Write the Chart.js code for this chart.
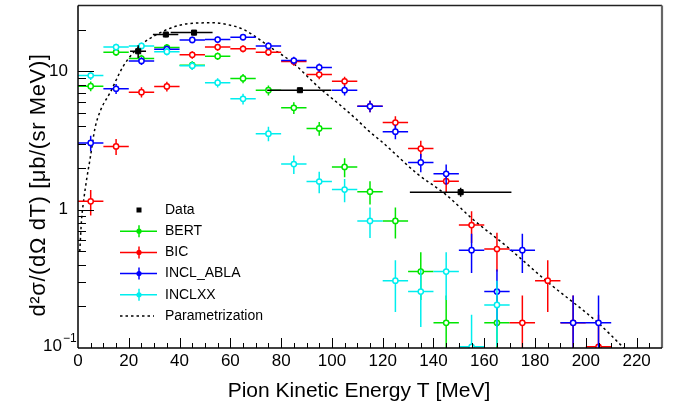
<!DOCTYPE html>
<html>
<head>
<meta charset="utf-8">
<script src="https://cdn.jsdelivr.net/npm/chart.js@4.4.0/dist/chart.umd.min.js"></script>
<style>
  html, body { margin: 0; padding: 0; background: #fff; }
  canvas { display: block; }
</style>
</head>
<body>
<canvas id="pionChart" width="688" height="402"></canvas>
<script>
// model histograms: bin centres in MeV, bins are 10 MeV wide
const modelT = [5, 15, 25, 35, 45, 55, 65, 75, 85, 95, 105, 115, 125, 135, 145, 155, 165, 175, 185, 195, 205]
const binHalfWidth = 5

const bertVals = [7.83, 13.8, 12.4, 14.9, 11.1, 12.9, 8.9, 7.32, 5.46, 3.87, 2.04, 1.35, 0.83, 0.357, 0.152, null, 0.152, null, null, null, null]
const bertErr = [0.63, 0.84, 0.8, 0.87, 0.75, 0.81, 0.67, 0.61, 0.53, 0.44, 0.32, 0.26, 0.21, 0.135, 0.088, null, 0.088, null, null, null, null]

const bicVals = [1.15, 2.87, 7.08, 7.8, 13.2, 15.0, 14.6, 13.8, 11.8, 9.5, 8.5, 5.6, 4.27, 2.77, 1.61, 0.775, 0.52, 0.152, 0.307, 0.152, 0.102]
const bicErr = [0.24, 0.38, 0.6, 0.63, 0.82, 0.88, 0.86, 0.84, 0.78, 0.7, 0.66, 0.53, 0.47, 0.38, 0.29, 0.2, 0.163, 0.088, 0.125, 0.088, 0.072]

const ablaVals = [3.04, 7.5, 11.9, 14.5, 16.9, 17.0, 17.7, 15.3, 12.0, 10.7, 7.32, 5.6, 3.67, 2.2, 1.82, 0.51, 0.256, 0.51, null, 0.152, 0.152]
const ablaErr = [0.39, 0.62, 0.78, 0.86, 0.93, 0.93, 0.95, 0.88, 0.78, 0.74, 0.61, 0.53, 0.43, 0.335, 0.305, 0.161, 0.114, 0.161, null, 0.088, 0.088]

const inclxxVals = [9.35, 15.0, 15.3, 13.9, 11.0, 8.3, 6.34, 3.55, 2.14, 1.6, 1.4, 0.83, 0.307, 0.256, 0.357, 0.102, 0.205, null, null, null, null]
const inclxxErr = [0.69, 0.875, 0.88, 0.84, 0.75, 0.65, 0.57, 0.425, 0.33, 0.286, 0.267, 0.206, 0.125, 0.114, 0.135, 0.072, 0.102, null, null, null, null]

// measured points
const dataT = [23.7, 34.6, 45.7, 87.4, 150.7]
const dataTLow = [20.5, 29.5, 36.5, 74.5, 130.7]
const dataTHigh = [26.8, 39.5, 53.0, 99.8, 170.7]
const dataVals = [14.0, 18.5, 19.1, 7.32, 1.34]
const dataErr = [1.5, 0.8, 0.8, 0.3, 0.1]

// parametrization curve
const paramT = [0.7, 1.4, 2.1, 3.5, 4.7, 6.7, 9, 12.6, 17.8, 24.4, 31, 40, 47, 53, 60, 65, 70, 74.5, 84.5, 94.6, 104.5, 109.7, 114.6, 120.2, 133.3, 145, 155.6, 169, 184.5, 204.8, 214.7, 220]
const paramVals = [0.5, 0.85, 1.12, 1.7, 2.3, 3.9, 5.3, 7.0, 10.9, 15.3, 18.5, 21.6, 22.4, 22.5, 21.6, 20.2, 17.8, 15.5, 11.6, 7.75, 5.46, 4.5, 3.7, 3.04, 1.84, 1.28, 0.85, 0.54, 0.305, 0.152, 0.101, 0.08]

const xTickVals = [0, 20, 40, 60, 80, 100, 120, 140, 160, 180, 200, 220]
const yTickVals = [0.1, 1, 10]

const FONT = "'Liberation Sans', Arial, Helvetica, sans-serif"

function modelSet(label, color, vals, errs, order) {
  const data = [], yErr = [], xLow = [], xHigh = []
  modelT.forEach((t, i) => {
    if (vals[i] == null) return
    data.push({ x: t, y: vals[i] })
    yErr.push(errs[i])
    xLow.push(t - binHalfWidth)
    xHigh.push(t + binHalfWidth)
  })
  return {
    label: label,
    data: data,
    yErr: yErr,
    xLow: xLow,
    xHigh: xHigh,
    borderColor: color,
    backgroundColor: "#fff",
    pointStyle: "circle",
    pointRadius: 2.6,
    pointBorderWidth: 1.5,
    showLine: false,
    order: order,
  }
}

const dataSet = {
  label: "Data",
  data: dataT.map((t, i) => ({ x: t, y: dataVals[i] })),
  yErr: dataErr,
  xLow: dataTLow,
  xHigh: dataTHigh,
  borderColor: "#000",
  backgroundColor: "#000",
  pointStyle: "rect",
  pointRadius: 3.6,
  pointBorderWidth: 1,
  showLine: false,
  order: 0,
}

const paramSet = {
  label: "Parametrization",
  data: paramT.map((t, i) => ({ x: t, y: paramVals[i] })),
  borderColor: "#000",
  borderWidth: 1.5,
  borderDash: [2.5, 3],
  pointRadius: 0,
  showLine: true,
  cubicInterpolationMode: "monotone",
  order: 5,
}

const datasets = [
  dataSet,
  modelSet("BERT", "#00e600", bertVals, bertErr, 4),
  modelSet("BIC", "#ff0000", bicVals, bicErr, 3),
  modelSet("INCL_ABLA", "#0000ff", ablaVals, ablaErr, 2),
  modelSet("INCLXX", "#00eeee", inclxxVals, inclxxErr, 1),
  paramSet,
]

// error bars drawn under each dataset's markers
const errorBars = {
  id: "errorBars",
  beforeDatasetDraw(chart, args) {
    const ds = chart.data.datasets[args.index]
    if (!ds.yErr) return
    const { ctx, chartArea: a, scales } = chart
    const xs = scales.x, ys = scales.y
    ctx.save()
    ctx.beginPath()
    ctx.rect(a.left, a.top, a.right - a.left, a.bottom - a.top)
    ctx.clip()
    ctx.strokeStyle = ds.borderColor
    ctx.lineWidth = 1.5
    ds.data.forEach((p, i) => {
      const px = xs.getPixelForValue(p.x)
      const py = ys.getPixelForValue(p.y)
      const lo = Math.max(p.y - ds.yErr[i], 0.001)
      ctx.beginPath()
      ctx.moveTo(xs.getPixelForValue(ds.xLow[i]), py)
      ctx.lineTo(xs.getPixelForValue(ds.xHigh[i]), py)
      ctx.moveTo(px, ys.getPixelForValue(p.y + ds.yErr[i]))
      ctx.lineTo(px, ys.getPixelForValue(lo))
      ctx.stroke()
    })
    ctx.restore()
  },
}

// ROOT-like frame, inward ticks, titles and legend
const rootFrame = {
  id: "rootFrame",
  afterDraw(chart) {
    const { ctx, chartArea: a, scales } = chart
    const xs = scales.x, ys = scales.y
    ctx.save()

    function seg(x1, y1, x2, y2) {
      ctx.beginPath()
      ctx.moveTo(x1, y1)
      ctx.lineTo(x2, y2)
      ctx.stroke()
    }

    // frame
    ctx.strokeStyle = "#222"
    ctx.lineWidth = 1.5
    seg(a.left, a.top, a.right, a.top)
    ctx.strokeStyle = "#666"
    ctx.lineWidth = 2.2
    seg(a.right, a.top, a.right, a.bottom)
    ctx.strokeStyle = "#000"
    ctx.lineWidth = 1.5
    seg(a.left, a.top, a.left, a.bottom)
    seg(a.left, a.bottom, a.right, a.bottom)

    // x ticks
    ctx.lineWidth = 1
    for (let t = 5; t < 230; t += 5) {
      const px = Math.round(xs.getPixelForValue(t)) + 0.5
      seg(px, a.bottom, px, a.bottom - (t % 20 === 0 ? 10 : 5))
    }
    // y ticks (log)
    yTickVals.forEach((d) => {
      for (let m = 1; m <= 9; m++) {
        const v = d * m
        if (v >= 30 || (v === 0.1)) continue
        const py = Math.round(ys.getPixelForValue(v)) + 0.5
        seg(a.left, py, a.left + (m === 1 ? 16 : 8), py)
      }
    })

    // 10^-1 label
    ctx.fillStyle = "#000"
    ctx.textBaseline = "middle"
    ctx.textAlign = "right"
    ctx.font = "17px " + FONT
    ctx.fillText("10", 62, ys.getPixelForValue(0.1) - 2)
    ctx.textAlign = "left"
    ctx.font = "12px " + FONT
    ctx.fillText("\u22121", 63, ys.getPixelForValue(0.1) - 9)

    // axis titles
    ctx.font = "21px " + FONT
    ctx.textAlign = "center"
    ctx.textBaseline = "alphabetic"
    ctx.fillText("Pion Kinetic Energy T [MeV]", 359, 397)
    ctx.save()
    ctx.translate(45, 185)
    ctx.rotate(-Math.PI / 2)
    ctx.font = "22px " + FONT
    ctx.letterSpacing = "0.6px"
    ctx.fillText("d\u00b2\u03c3/(d\u03a9 dT) [\u03bcb/(sr MeV)]", 0, 0)
    ctx.restore()

    // legend
    const lx0 = 120, lx1 = 157, lmx = 139, ltx = 165
    ctx.font = "14px " + FONT
    ctx.textAlign = "left"
    ctx.textBaseline = "middle"
    chart.data.datasets.forEach((ds, i) => {
      const ly = 210 + i * 21.2
      if (ds.label === "Data") {
        ctx.fillStyle = "#000"
        ctx.fillRect(lmx - 2.5, ly - 2.5, 5, 5)
      } else if (ds.label === "Parametrization") {
        ctx.strokeStyle = "#000"
        ctx.lineWidth = 1.5
        ctx.setLineDash([2.5, 3])
        seg(lx0, ly, lx0 + 34, ly)
        ctx.setLineDash([])
      } else {
        ctx.strokeStyle = ds.borderColor
        ctx.lineWidth = 1.5
        seg(lx0, ly, lx1, ly)
        seg(lmx, ly - 6, lmx, ly + 6)
        ctx.fillStyle = ds.borderColor
        ctx.beginPath()
        ctx.arc(lmx, ly, 2.6, 0, Math.PI * 2)
        ctx.fill()
      }
      ctx.fillStyle = "#000"
      ctx.fillText(ds.label, ltx, ly)
    })

    ctx.restore()
  },
}

Chart.defaults.font.family = FONT
Chart.defaults.color = "#000"

const myChart = new Chart(document.getElementById("pionChart"), {
  type: "scatter",
  data: { datasets: datasets },
  options: {
    responsive: false,
    animation: false,
    devicePixelRatio: 1,
    layout: { padding: { top: 4, right: 26, left: 0, bottom: 0 } },
    plugins: { legend: { display: false }, tooltip: { enabled: false } },
    scales: {
      x: {
        type: "linear",
        min: 0,
        max: 230,
        grid: { display: false, drawTicks: false },
        border: { display: false },
        afterFit: (scale) => {
          scale.height = 54
          scale.paddingLeft = 0
          scale.paddingRight = 0
        },
        afterBuildTicks: (scale) => { scale.ticks = xTickVals.map((v) => ({ value: v })) },
        ticks: { font: { size: 17 }, padding: 3, maxRotation: 0, autoSkip: false },
      },
      y: {
        type: "logarithmic",
        min: 0.1,
        max: 30,
        grid: { display: false, drawTicks: false },
        border: { display: false },
        afterFit: (scale) => {
          scale.width = 78
          scale.paddingTop = 0
          scale.paddingBottom = 0
        },
        afterBuildTicks: (scale) => { scale.ticks = yTickVals.map((v) => ({ value: v })) },
        ticks: {
          font: { size: 17 },
          padding: 10,
          autoSkip: false,
          callback: (v) => (v === 0.1 ? "" : String(v)),
        },
      },
    },
  },
  plugins: [errorBars, rootFrame],
})
</script>
</body>
</html>
